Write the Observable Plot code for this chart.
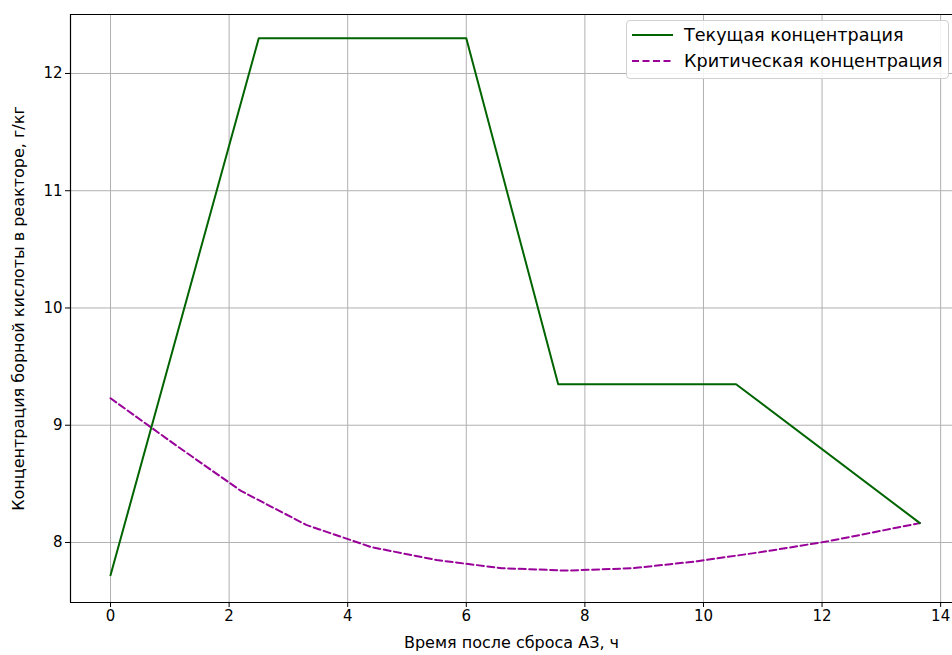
<!DOCTYPE html>
<html><head><meta charset="utf-8">
<script src="https://cdn.jsdelivr.net/npm/d3@7"></script>
<script src="https://cdn.jsdelivr.net/npm/@observablehq/plot@0.6"></script>
<style>
body{margin:0;background:#fff;font-family:"DejaVu Sans",sans-serif}
#wrap{position:relative;width:952px;height:655px;overflow:hidden}
#legend{position:absolute;left:626px;top:20px;width:323px;height:59px;border:1px solid #d0d0d0;border-radius:4px;background:rgba(255,255,255,0.85);box-sizing:border-box;font-size:17.6px;color:#000}
#legend .row{position:absolute;left:5px;height:22px;display:flex;align-items:center}
#legend svg{margin-right:11px}
</style>
</head><body><div id="wrap"></div>
<script>
const seriesNames = ["Текущая концентрация", "Критическая концентрация"];
const seriesColors = ["#006400", "#990099"];
const currentX = [0, 2.5, 6.0, 7.55, 10.55, 13.65];
const currentY = [7.72, 12.3, 12.3, 9.35, 9.35, 8.165];
const criticalX = [0, 1.1, 2.2, 3.3, 4.4, 5.5, 6.6, 7.7, 8.8, 9.9, 11.0, 12.1, 13.65];
const criticalY = [9.23, 8.83, 8.44, 8.15, 7.96, 7.85, 7.78, 7.76, 7.78, 7.84, 7.92, 8.01, 8.165];
const xTicks = [0, 2, 4, 6, 8, 10, 12, 14];
const yTicks = [8, 9, 10, 11, 12];
const xLabel = "Время после сброса АЗ, ч";
const yLabel = "Концентрация борной кислоты в реакторе, г/кг";
const xDomain = [-0.675, 14.2];
const yDomain = [7.488, 12.503];

const current = currentX.map((x, i) => ({x, y: currentY[i]}));
const critical = criticalX.map((x, i) => ({x, y: criticalY[i]}));

const chart = Plot.plot({
  width: 952, height: 655,
  marginLeft: 70, marginRight: 0, marginTop: 14, marginBottom: 53,
  style: {fontFamily: "DejaVu Sans", fontSize: "15px", background: "#fff", color: "#000"},
  x: {domain: xDomain},
  y: {domain: yDomain},
  marks: [
    Plot.gridX(xTicks, {stroke: "#b0b0b0", strokeOpacity: 1, strokeWidth: 1}),
    Plot.gridY(yTicks, {stroke: "#b0b0b0", strokeOpacity: 1, strokeWidth: 1}),
    Plot.ruleX([xDomain[0]], {stroke: "#000", strokeWidth: 1.2}),
    Plot.ruleY(yDomain, {stroke: "#000", strokeWidth: 1.2}),
    Plot.line(critical, {x: "x", y: "y", stroke: seriesColors[1], strokeWidth: 2, strokeDasharray: "7,3.5"}),
    Plot.line(current, {x: "x", y: "y", stroke: seriesColors[0], strokeWidth: 2}),
    Plot.axisX(xTicks, {tickSize: 5, tickPadding: 3, fontSize: 15, label: null, stroke: "#000", tickFormat: d => String(d)}),
    Plot.axisY(yTicks, {tickSize: 5, tickPadding: 3, fontSize: 15, label: null, stroke: "#000", tickFormat: d => String(d)}),
    Plot.text([xLabel], {frameAnchor: "bottom", textAnchor: "middle", dy: 45, fontSize: 16, fill: "#000"}),
    Plot.text([yLabel], {frameAnchor: "left", textAnchor: "middle", dx: -52, rotate: -90, fontSize: 16, fill: "#000"})
  ]
});
const wrap = document.getElementById("wrap");
wrap.appendChild(chart);

const legend = document.createElement("div");
legend.id = "legend";
seriesNames.forEach((name, i) => {
  const row = document.createElement("div");
  row.className = "row";
  row.style.top = (i === 0 ? 3 : 29) + "px";
  row.innerHTML = `<svg width="41" height="4"><line x1="0" x2="41" y1="2" y2="2" stroke="${seriesColors[i]}" stroke-width="2" ${i === 1 ? 'stroke-dasharray="7,3.5"' : ''}/></svg><span>${name}</span>`;
  legend.appendChild(row);
});
wrap.appendChild(legend);
</script>
</body></html>
